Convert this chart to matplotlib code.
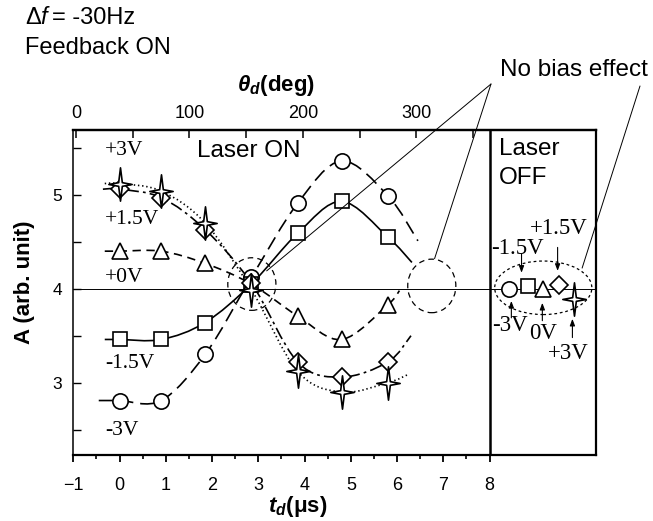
import matplotlib
matplotlib.use("Agg")
import matplotlib.pyplot as plt
import numpy as np
from matplotlib.path import Path
from matplotlib.patches import PathPatch, Ellipse

plt.rcParams["font.family"] = ["Liberation Sans", "DejaVu Sans"]
plt.rcParams["mathtext.fontset"] = "custom"
plt.rcParams["mathtext.bf"] = "Liberation Sans:italic:bold"
plt.rcParams["mathtext.it"] = "Liberation Sans:italic"
plt.rcParams["mathtext.rm"] = "Liberation Sans"
plt.rcParams["lines.scale_dashes"] = False

# --- data ---
td_on = [0.0, 0.9, 1.85, 2.85, 3.85, 4.8, 5.8]          # delay time (us), laser ON
a_m3v = [2.81, 2.81, 3.30, 4.12, 4.91, 5.36, 4.99]
a_m15v = [3.46, 3.46, 3.64, 4.05, 4.59, 4.93, 4.55]
a_0v = [4.40, 4.40, 4.27, 4.05, 3.71, 3.46, 3.83]
a_p15v = [5.06, 4.97, 4.63, 4.06, 3.22, 3.06, 3.22]
a_p3v = [5.12, 5.04, 4.70, 3.99, 3.12, 2.90, 3.00]

# where the guide curves start / stop
ends_m3v = [(-0.45, 2.81), (6.45, 4.51)]
ends_m15v = [(-0.32, 3.46), (6.32, 4.28)]
ends_0v = [(-0.32, 4.40), (6.05, 3.98)]
ends_p15v = [(-0.36, 5.06), (6.30, 3.50)]
ends_p3v = [(-0.32, 5.12), (6.25, 3.09)]

# laser OFF: -3V, -1.5V, 0V, +1.5V, +3V
td_off = [8.41, 8.82, 9.15, 9.50, 9.83]
a_off = [4.00, 4.03, 4.00, 4.04, 3.89]

# 4-point star marker (taller than wide)
r = 0.11
star = Path([(0, 1), (r, r), (0.7, 0), (r, -r), (0, -1), (-r, -r),
             (-0.7, 0), (-r, r), (0, 1)],
            [Path.MOVETO] + [Path.LINETO] * 7 + [Path.CLOSEPOLY])

markers = ["o", "s", "^", "D", star]
msizes = [11, 10, 11, 9.2, 24]
styles = [(0, (10, 5)), "-", (0, (6, 4)), (0, (9, 3, 2, 3)), (0, (1, 2))]
series = [a_m3v, a_m15v, a_0v, a_p15v, a_p3v]
ends = [ends_m3v, ends_m15v, ends_0v, ends_p15v, ends_p3v]


def smooth_path(xs, ys):
    # Catmull-Rom through the points, drawn as cubic Bezier segments
    p = np.column_stack([xs, ys])
    ext = np.vstack([p[0], p, p[-1]])
    verts = [p[0]]
    codes = [Path.MOVETO]
    for i in range(len(p) - 1):
        p0, p1, p2, p3 = ext[i], ext[i + 1], ext[i + 2], ext[i + 3]
        verts += [p1 + (p2 - p0) / 6, p2 - (p3 - p1) / 6, p2]
        codes += [Path.CURVE4] * 3
    return Path(verts, codes)


fig = plt.figure(figsize=(6.53, 5.21), dpi=100)
ax = fig.add_axes([73.3 / 653, 1 - 455 / 521, (596 - 73.3) / 653, (455 - 130) / 521])
ax.set_xlim(-1, 10.3)
ax.set_ylim(2.23, 5.69)

ax.axhline(4.0, color="black", lw=0.7, zorder=1)
ax.axvline(8.0, color="black", lw=1.8, zorder=3)

for vals, (e0, e1), mk, ms, ls in zip(series, ends, markers, msizes, styles):
    xs = [e0[0]] + td_on + [e1[0]]
    ys = [e0[1]] + vals + [e1[1]]
    ax.add_patch(PathPatch(smooth_path(xs, ys), fill=False, lw=1.2,
                           ls=ls, ec="black", zorder=2))
    ax.plot(td_on, vals, ls="none", marker=mk, ms=ms, mfc="white",
            mec="black", mew=1.2, zorder=4)

for x, y, mk, ms in zip(td_off, a_off, markers, msizes):
    ax.plot([x], [y], ls="none", marker=mk, ms=ms, mfc="white",
            mec="black", mew=1.2, zorder=4)

# dashed guide circles
ax.add_patch(Ellipse((2.86, 4.05), 1.04, 0.56, fill=False, ls=(0, (4, 3)),
                     lw=0.9, ec="black", zorder=5))
ax.add_patch(Ellipse((6.75, 4.03), 1.04, 0.57, fill=False, ls=(0, (4, 3)),
                     lw=0.9, ec="black", zorder=5))
ax.add_patch(Ellipse((9.16, 4.01), 2.1, 0.57, fill=False, ls=(0, (2, 2)),
                     lw=0.9, ec="black", zorder=5))

# bias labels (laser ON)
serif = dict(family="Liberation Serif", fontsize=15.5, va="center", ha="left")
for lab, y in zip(["+3V", "+1.5V", "+0V", "-1.5V", "-3V"],
                  [5.47, 4.74, 4.12, 3.20, 2.49]):
    ax.text(-0.32, y, lab, **serif)

ax.text(1.67, 5.47, "Laser ON", fontsize=17.5, va="center")
ax.text(8.21, 5.49, "Laser", fontsize=17.5, va="center")
ax.text(8.21, 5.18, "OFF", fontsize=17.5, va="center")

# bias labels (laser OFF) with little arrows
serif_off = dict(serif, fontsize=16.5)
ax.text(8.04, 4.43, "-1.5V", **serif_off)
ax.text(8.86, 4.64, "+1.5V", **serif_off)
ax.text(8.06, 3.61, "-3V", **serif_off)
ax.text(8.86, 3.52, "0V", **serif_off)
ax.text(9.25, 3.31, "+3V", **serif_off)
arr = dict(arrowstyle="-|>,head_length=0.4,head_width=0.15", lw=0.8,
           color="black", shrinkA=0, shrinkB=0)
for x, y0, y1 in [(8.69, 4.37, 4.17), (9.47, 4.44, 4.19), (8.47, 3.69, 3.87),
                  (9.14, 3.66, 3.85), (9.79, 3.48, 3.68)]:
    ax.annotate("", xy=(x, y1), xytext=(x, y0), arrowprops=arr, zorder=6)

# "No bias effect" pointers
fig.text(500 / 653, 1 - 70 / 521, "No bias effect", fontsize=17.5, va="center")
line = dict(arrowstyle="-", lw=0.7, color="black", shrinkA=0, shrinkB=0)
for (fx, fy), tgt in [((491, 84), (3.18, 4.19)), ((491, 84), (6.81, 4.32)),
                      ((640, 86), (10.0, 4.22))]:
    ax.annotate("", xy=tgt, xytext=(fx / 653, 1 - fy / 521),
                textcoords="figure fraction", arrowprops=line,
                annotation_clip=False, zorder=6)

# header: "Δf = -30Hz" with italic f, then "Feedback ON"
fig.text(25 / 653, 1 - 18 / 521, "Δ", fontsize=17, va="center")
fig.text(40 / 653, 1 - 18 / 521, "f", fontsize=17, style="italic", va="center")
fig.text(52 / 653, 1 - 18 / 521, "= -30Hz", fontsize=17, va="center")
fig.text(25 / 653, 1 - 48 / 521, "Feedback ON", fontsize=17, va="center")

# axes styling
ax.set_xticks(range(-1, 9))
ax.set_xticks(np.arange(-0.5, 8.0, 1.0), minor=True)
ax.set_yticks([3, 4, 5])
ax.set_yticks([2.5, 3.5, 4.5, 5.5], minor=True)
ax.tick_params(axis="x", which="major", direction="out", length=5, width=1.3,
               pad=11, labelsize=13)
ax.tick_params(axis="x", which="minor", direction="out", length=3, width=1.2)
ax.tick_params(axis="y", which="both", direction="in", length=6, width=1.0,
               pad=8, labelsize=12.5)
for s in ["bottom", "top", "right"]:
    ax.spines[s].set_linewidth(1.6)
ax.spines["left"].set_linewidth(1.1)

deg_per_us = 40.8
sec = ax.secondary_xaxis("top", functions=(lambda t: (t + 0.94) * deg_per_us,
                                           lambda d: d / deg_per_us - 0.94))
sec.set_xticks([0, 100, 200, 300])
sec.set_xticks([50, 150, 250, 350], minor=True)
sec.tick_params(which="major", direction="in", length=6, width=1.1, pad=6,
                labelsize=13)
sec.tick_params(which="minor", direction="in", length=6, width=1.1)
sec.spines["top"].set_linewidth(1.6)

fig.text(276 / 653, 1 - 86 / 521, r"$\mathbf{\theta_d}$(deg)", fontsize=16,
         fontweight="bold", ha="center", va="center")
fig.text(298 / 653, 1 - 519 / 521, r"$\mathbf{t_d}$(μs)", fontsize=16,
         fontweight="bold", ha="center", va="bottom")
fig.text(25 / 653, 1 - 282 / 521, "A (arb. unit)", fontsize=16,
         fontweight="bold", ha="center", va="center", rotation=90)

fig.savefig("out.png", dpi=100)
